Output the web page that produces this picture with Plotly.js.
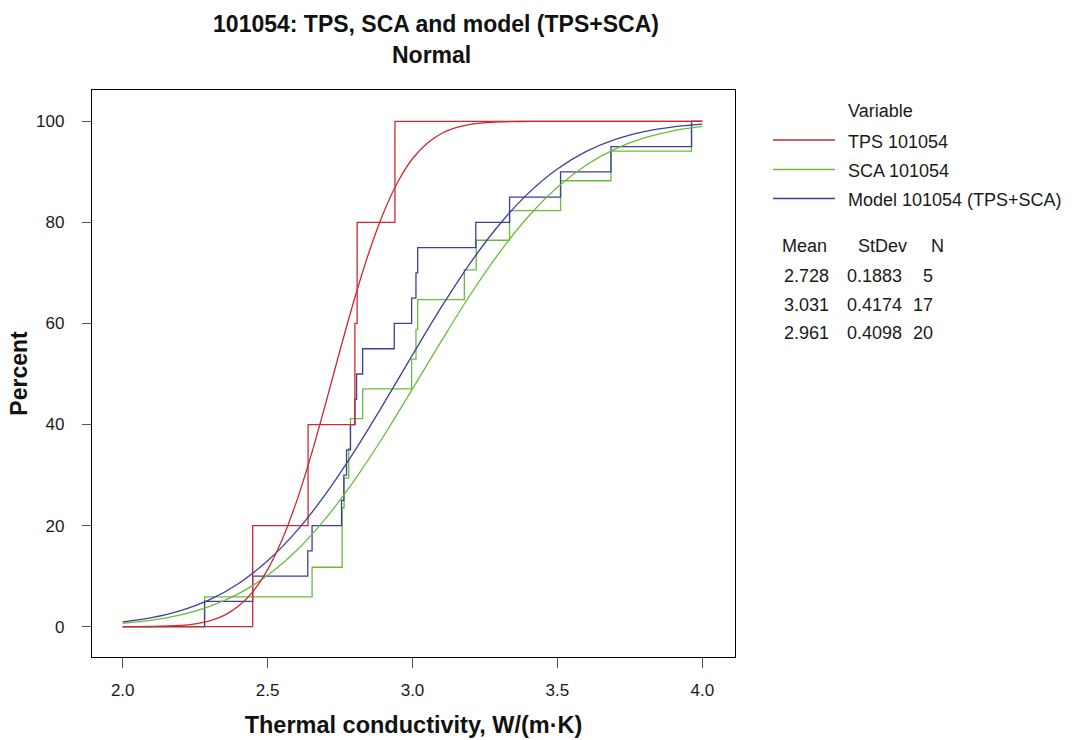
<!DOCTYPE html>
<html><head><meta charset="utf-8">
<script src="https://cdn.plot.ly/plotly-3.0.1.min.js"></script>
<style>html,body{margin:0;padding:0;background:#fff}#chart{width:1073px;height:740px}</style>
</head><body><div id="chart"></div>
<script>
// ---- data ----
const seriesNames = ['TPS 101054', 'SCA 101054', 'Model 101054 (TPS+SCA)'];
const seriesColors = ['#cc2a30', '#6cbb3c', '#3f3f99'];

// empirical CDF (step) observations, W/(m·K), and cumulative percents
const tpsObs = [2.4485, 2.6397, 2.8012, 2.8090, 2.9395];
const tpsPct = [20, 40, 60, 80, 100];
const scaObs = [2.2825, 2.6535, 2.7573, 2.7573, 2.7640, 2.7800, 2.7860, 2.8280, 2.9970,
                3.0120, 3.0180, 3.1790, 3.2200, 3.3350, 3.5110, 3.6850, 3.9630];
const scaPct = [5.88, 11.76, 17.65, 23.53, 29.41, 35.29, 41.18, 47.06, 52.94,
                58.82, 64.71, 70.59, 76.47, 82.35, 88.24, 94.12, 100];
const modelObs = [2.2825, 2.4485, 2.6387, 2.6535, 2.7552, 2.7631, 2.7725, 2.7860, 2.8012, 2.8071,
                  2.8280, 2.9371, 2.9970, 3.0120, 3.0180, 3.2185, 3.3350, 3.5110, 3.6850, 3.9630];
const modelPct = [5, 10, 15, 20, 25, 30, 35, 40, 45, 50, 55, 60, 65, 70, 75, 80, 85, 90, 95, 100];
const stepStart = 2.0, stepEnd = 4.0;

// fitted normal CDF curves (percent)
const tpsFitX = [2.0, 2.1, 2.2, 2.25, 2.3, 2.35, 2.4, 2.45, 2.5, 2.55, 2.6, 2.65, 2.7, 2.75, 2.8,
                 2.85, 2.9, 2.95, 3.0, 3.05, 3.1, 3.15, 3.2, 3.3, 3.4, 3.6, 4.0];
const tpsFitY = [0.01, 0.04, 0.25, 0.56, 1.15, 2.24, 4.08, 7.0, 11.3, 17.2, 24.8, 33.9, 44.1, 54.7, 64.9,
                 74.1, 81.9, 88.1, 92.6, 95.6, 97.6, 98.75, 99.39, 99.88, 99.98, 100, 100];
const scaFitX = [2.0, 2.1, 2.2, 2.3, 2.4, 2.5, 2.6, 2.7, 2.8, 2.9, 3.0, 3.1, 3.2, 3.3, 3.4, 3.5, 3.6, 3.7, 3.8, 3.9, 4.0];
const scaFitY = [0.68, 1.29, 2.32, 4.00, 6.53, 10.17, 15.08, 21.39, 29.01, 37.68, 47.05, 56.55, 65.73, 74.02,
                 81.16, 86.95, 91.36, 94.55, 96.73, 98.13, 98.99];
const modelFitX = [2.0, 2.1, 2.2, 2.3, 2.4, 2.5, 2.6, 2.7, 2.8, 2.9, 3.0, 3.1, 3.2, 3.3, 3.4, 3.5, 3.6, 3.7, 3.8, 3.9, 4.0];
const modelFitY = [0.95, 1.78, 3.17, 5.34, 8.55, 13.03, 18.92, 26.21, 34.72, 44.08, 53.78, 63.27, 72.01, 79.59,
                   85.79, 90.58, 94.05, 96.43, 97.97, 98.90, 99.44];

// summary table
const statMean = ['2.728', '3.031', '2.961'];
const statSd = ['0.1883', '0.4174', '0.4098'];
const statN = ['5', '17', '20'];

const xTicks = [2.0, 2.5, 3.0, 3.5, 4.0];
const yTicks = [0, 20, 40, 60, 80, 100];

// ---- build traces ----
const FONT = 'Liberation Sans, Arial, Helvetica, sans-serif';
function stepTrace(obs, pct, color) {
  return {x: [stepStart].concat(obs, [stepEnd]), y: [0].concat(pct, [100]),
          type: 'scatter', mode: 'lines', line: {shape: 'hv', color: color, width: 1.3},
          hoverinfo: 'x+y', showlegend: false};
}
function fitTrace(xs, ys, color) {
  return {x: xs, y: ys, type: 'scatter', mode: 'lines',
          line: {shape: 'spline', smoothing: 1, color: color, width: 1.3},
          hoverinfo: 'x+y', showlegend: false};
}
const traces = [
  stepTrace(scaObs, scaPct, seriesColors[1]),
  stepTrace(modelObs, modelPct, seriesColors[2]),
  stepTrace(tpsObs, tpsPct, seriesColors[0]),
  fitTrace(scaFitX, scaFitY, seriesColors[1]),
  fitTrace(modelFitX, modelFitY, seriesColors[2]),
  fitTrace(tpsFitX, tpsFitY, seriesColors[0])
];

// ---- legend & table (paper coords; plot area 92..735 x 90..657 px) ----
const PL = 92, PR = 735, PT = 90, PB = 657;
const px = v => (v - PL) / (PR - PL);
const py = v => (PB - v) / (PB - PT);
const txt = {family: FONT, size: 18, color: '#1a1a1a'};
const annotations = [];
const shapes = [];
annotations.push({xref: 'paper', yref: 'paper', x: px(846), y: py(111), xanchor: 'left', yanchor: 'middle',
                  text: 'Variable', showarrow: false, font: txt});
const legY = [140, 169.5, 198.5];
seriesNames.forEach((n, i) => {
  shapes.push({type: 'line', xref: 'paper', yref: 'paper', x0: px(773), x1: px(835), y0: py(legY[i]), y1: py(legY[i]),
               line: {color: seriesColors[i], width: 1.3}});
  annotations.push({xref: 'paper', yref: 'paper', x: px(846), y: py(legY[i] + 1.5), xanchor: 'left', yanchor: 'middle',
                    text: n, showarrow: false, font: txt});
});
annotations.push({xref: 'paper', yref: 'paper', x: px(780), y: py(246.5), xanchor: 'left', yanchor: 'middle', text: 'Mean', showarrow: false, font: txt});
annotations.push({xref: 'paper', yref: 'paper', x: px(856), y: py(246.5), xanchor: 'left', yanchor: 'middle', text: 'StDev', showarrow: false, font: txt});
annotations.push({xref: 'paper', yref: 'paper', x: px(929), y: py(246.5), xanchor: 'left', yanchor: 'middle', text: 'N', showarrow: false, font: txt});
const rowY = [276, 305, 333];
statMean.forEach((m, i) => {
  annotations.push({xref: 'paper', yref: 'paper', x: px(782), y: py(rowY[i]), xanchor: 'left', yanchor: 'middle', text: m, showarrow: false, font: txt});
  annotations.push({xref: 'paper', yref: 'paper', x: px(845), y: py(rowY[i]), xanchor: 'left', yanchor: 'middle', text: statSd[i], showarrow: false, font: txt});
  annotations.push({xref: 'paper', yref: 'paper', x: px(935), y: py(rowY[i]), xanchor: 'right', yanchor: 'middle', text: statN[i], showarrow: false, font: txt});
});
// subtitle line of the title
annotations.push({xref: 'paper', yref: 'paper', x: px(431), y: py(55), xanchor: 'center', yanchor: 'middle',
                  text: 'Normal', showarrow: false, font: {family: FONT, size: 23, weight: 'bold', color: '#111'}});

const layout = {
  width: 1073, height: 740,
  margin: {l: PL, r: 1073 - PR, t: PT, b: 740 - PB, pad: 0},
  paper_bgcolor: '#ffffff', plot_bgcolor: '#ffffff',
  font: {family: FONT, color: '#1a1a1a'},
  title: {text: '101054: TPS, SCA and model (TPS+SCA)',
          font: {family: FONT, size: 23, weight: 'bold', color: '#111'},
          xref: 'container', yref: 'container', x: 436 / 1073, xanchor: 'center', y: 1 - 24 / 740, yanchor: 'middle'},
  xaxis: {range: [1.894, 4.113], tickvals: xTicks, ticktext: xTicks.map(v => v.toFixed(1)),
          ticks: 'outside', ticklen: 10, tickwidth: 1, tickcolor: '#555', ticklabelstandoff: 7,
          showgrid: false, zeroline: false, showline: true, mirror: true, linecolor: '#000', linewidth: 1.2,
          tickfont: {family: FONT, size: 17, color: '#1a1a1a'},
          title: {text: 'Thermal conductivity, W/(m·K)', font: {family: FONT, size: 23.5, weight: 'bold', color: '#111'}, standoff: 18}},
  yaxis: {range: [-6.0, 106.2], tickvals: yTicks, ticks: 'outside', ticklen: 9, tickwidth: 1, tickcolor: '#555',
          ticklabelstandoff: 14,
          showgrid: false, zeroline: false, showline: true, mirror: true, linecolor: '#000', linewidth: 1.2,
          tickfont: {family: FONT, size: 17, color: '#1a1a1a'},
          title: {text: 'Percent', font: {family: FONT, size: 23, weight: 'bold', color: '#111'}, standoff: 2}},
  showlegend: false,
  annotations: annotations,
  shapes: shapes
};
Plotly.newPlot('chart', traces, layout, {displayModeBar: false, staticPlot: true});
</script></body></html>
